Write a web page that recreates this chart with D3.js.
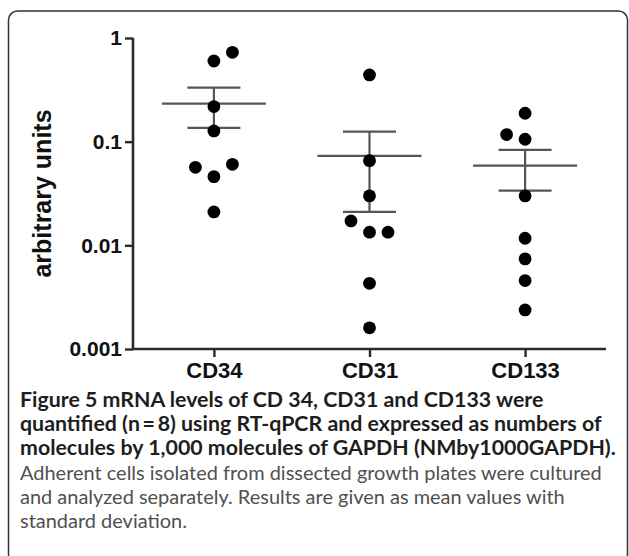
<!DOCTYPE html>
<html>
<head>
<meta charset="utf-8">
<script src="https://cdn.jsdelivr.net/npm/d3@7"></script>
<style>
  body { margin: 0; background: #fff; }
  svg { display: block; }
</style>
</head>
<body>
<div id="chart"></div>
<script>
// groups on the x axis
const groups = ["CD34", "CD31", "CD133"];

// individual measurements (n = 8 per group), arbitrary units
const cd34Values = [0.728, 0.60, 0.218, 0.127, 0.0566, 0.0605, 0.046, 0.021];
const cd31Values = [0.44, 0.0656, 0.030, 0.0172, 0.0134, 0.0134, 0.0043, 0.0016];
const cd133Values = [0.188, 0.117, 0.1055, 0.030, 0.0117, 0.0074, 0.00457, 0.00238];

// side-by-side column of each dot where points overlap (-1 left, 0 centre, 1 right)
const cd34Column = [1, 0, 0, 0, -1, 1, 0, 0];
const cd31Column = [0, 0, 0, -1, 0, 1, 0, 0];
const cd133Column = [0, -1, 0, 0, 0, 0, 0, 0];

// mean and error bar ends per group
const means = [0.233, 0.0728, 0.0587];
const upper = [0.332, 0.125, 0.0832];
const lower = [0.136, 0.021, 0.0337];

const yTicks = [1, 0.1, 0.01, 0.001];
const yTickLabels = ["1", "0.1", "0.01", "0.001"];

const captionBold = [
    "Figure 5 mRNA levels of CD 34, CD31 and CD133 were",
    "quantified (n\u2009=\u20098) using RT-qPCR and expressed as numbers of",
    "molecules by 1,000 molecules of GAPDH (NMby1000GAPDH)."
];
const captionNormal = [
    "Adherent cells isolated from dissected growth plates were cultured",
    "and analyzed separately. Results are given as mean values with",
    "standard deviation."
];

const W = 629, H = 556;
const svg = d3.select("#chart").append("svg")
    .attr("width", W)
    .attr("height", H);

// outer frame
svg.append("rect")
    .attr("x", 8.5).attr("y", 11)
    .attr("width", 619).attr("height", 552)
    .attr("rx", 9).attr("ry", 9)
    .attr("fill", "none")
    .attr("stroke", "#333")
    .attr("stroke-width", 1.5);

const axisLeftX = 133, axisRightX = 606;
const y = d3.scaleLog()
    .domain([0.001, 1])
    .range([349, 38]);

const x = d3.scalePoint()
    .domain(groups)
    .range([axisLeftX, axisRightX])
    .padding(0.52);

const axisColor = "#2a2a2a";
const font = "'Liberation Sans', Arial, sans-serif";

// y axis
const yAxis = svg.append("g")
    .attr("transform", `translate(${axisLeftX},0)`)
    .call(d3.axisLeft(y)
        .tickValues(yTicks)
        .tickFormat((d, i) => yTickLabels[i])
        .tickSize(8)
        .tickPadding(3));
yAxis.select(".domain").attr("stroke", axisColor).attr("stroke-width", 2.6)
    .attr("d", `M0,${y(1)}V${y(0.001)}`);
yAxis.selectAll(".tick line").attr("stroke", axisColor).attr("stroke-width", 2.4);
yAxis.selectAll(".tick text")
    .attr("fill", "#111")
    .style("font-family", font)
    .style("font-weight", "bold")
    .style("font-size", "21px");

// x axis
const xAxis = svg.append("g")
    .attr("transform", `translate(0,${y(0.001)})`)
    .call(d3.axisBottom(x).tickSize(8).tickPadding(5));
xAxis.select(".domain").attr("stroke", axisColor).attr("stroke-width", 2.6)
    .attr("d", `M${axisLeftX},0H${axisRightX}`);
xAxis.selectAll(".tick line").attr("stroke", axisColor).attr("stroke-width", 2.4);
xAxis.selectAll(".tick text")
    .attr("fill", "#111")
    .style("font-family", font)
    .style("font-weight", "bold")
    .style("font-size", "22px");

// y axis title
svg.append("text")
    .attr("transform", `translate(51,${(y(1) + y(0.001)) / 2}) rotate(-90)`)
    .attr("text-anchor", "middle")
    .attr("fill", "#111")
    .style("font-family", font)
    .style("font-weight", "bold")
    .style("font-size", "25px")
    .text("arbitrary units");

// mean and error bars
const meanHalf = 52, capHalf = 26.5;
const bars = svg.append("g")
    .attr("stroke", "#555")
    .attr("stroke-width", 2.2)
    .attr("fill", "none");

groups.forEach((g, i) => {
    const cx = x(g);
    bars.append("line")
        .attr("x1", cx).attr("x2", cx)
        .attr("y1", y(upper[i])).attr("y2", y(lower[i]));
    bars.append("line")
        .attr("x1", cx - meanHalf).attr("x2", cx + meanHalf)
        .attr("y1", y(means[i])).attr("y2", y(means[i]));
    [upper[i], lower[i]].forEach(v => {
        bars.append("line")
            .attr("x1", cx - capHalf).attr("x2", cx + capHalf)
            .attr("y1", y(v)).attr("y2", y(v));
    });
});

// dots
const dotStep = 18.5;
const series = [
    { group: "CD34", values: cd34Values, column: cd34Column },
    { group: "CD31", values: cd31Values, column: cd31Column },
    { group: "CD133", values: cd133Values, column: cd133Column }
];
const dots = svg.append("g").attr("fill", "#000");
series.forEach(s => {
    dots.selectAll(null)
        .data(s.values.map((v, i) => ({ v: v, c: s.column[i] })))
        .join("circle")
        .attr("cx", d => x(s.group) + d.c * dotStep)
        .attr("cy", d => y(d.v))
        .attr("r", 6.4);
});

// caption
const capFont = "Lato, 'Open Sans', sans-serif";
const capX = 20;
const lineStep = 24.2;
const firstBase = 407;

const cap = svg.append("g");
const boldLines = cap.selectAll(".cb")
    .data(captionBold)
    .join("text")
    .attr("class", "cb")
    .attr("x", capX)
    .attr("y", (d, i) => firstBase + i * lineStep)
    .attr("fill", "#1e1e1e")
    .style("font-family", capFont)
    .style("font-weight", "bold")
    .style("font-size", "18px")
    .text(d => d);

const normalLines = cap.selectAll(".cn")
    .data(captionNormal)
    .join("text")
    .attr("class", "cn")
    .attr("x", capX)
    .attr("y", (d, i) => firstBase + (i + 3) * lineStep)
    .attr("fill", "#505050")
    .style("font-family", capFont)
    .style("font-size", "18px")
    .text(d => d);

// fit caption font sizes to the widths of the widest lines
function fit(sel, index, target) {
    const w = sel.nodes()[index].getComputedTextLength();
    const size = 18 * target / w;
    sel.style("font-size", size + "px");
}
fit(boldLines, 1, 582);
fit(normalLines, 0, 582);
</script>
</body>
</html>
